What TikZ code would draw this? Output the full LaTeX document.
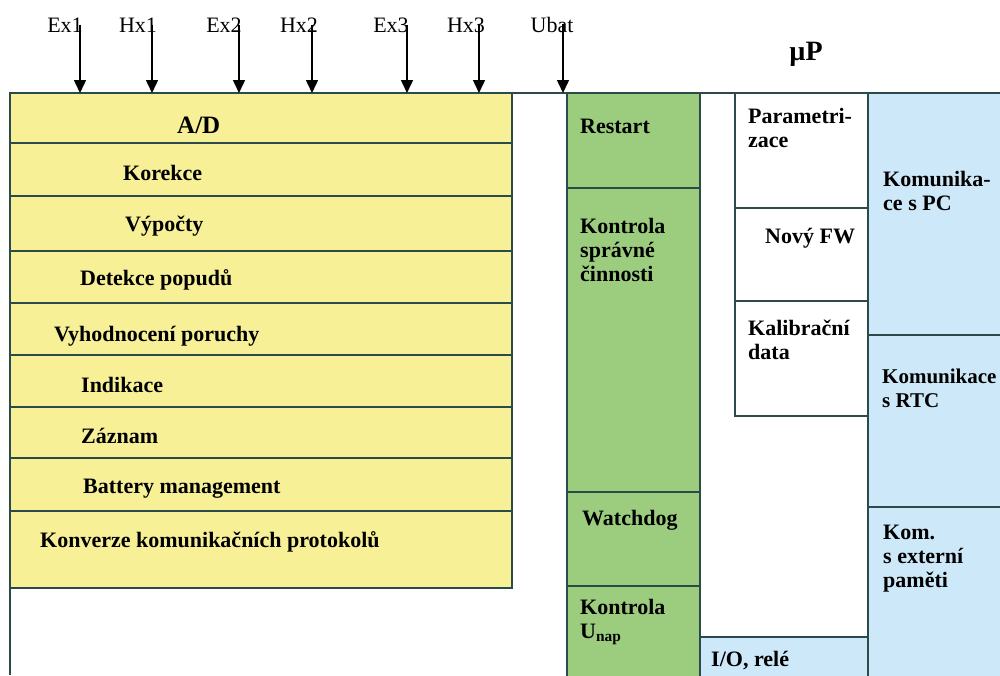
\documentclass[tikz,border=0pt]{standalone}
\usepackage{fontspec}
\setmainfont{Liberation Serif}
\usetikzlibrary{arrows.meta}
\definecolor{adyellow}{RGB}{247,240,151}
\definecolor{upgreen}{RGB}{156,204,126}
\definecolor{comblue}{RGB}{205,232,248}
\definecolor{framec}{RGB}{43,74,74}

\begin{document}
\begin{tikzpicture}[x=1pt, y=-1pt,
  box/.style={draw=framec, line width=1.6pt, anchor=north west, inner sep=0pt, outer sep=0pt},
  txt/.style={anchor=base west, inner sep=0pt, align=left, font=\bfseries\fontsize{22}{24}\selectfont},
  lab/.style={anchor=base, inner sep=0pt, font=\fontsize{22}{24}\selectfont},
  sig/.style={-{Triangle[length=13pt,width=12pt]}, line width=1.5pt}]
\useasboundingbox (0,0) rectangle (1000,675);

% A/D blok
\foreach \n/\ya/\yb in {ad/93/143, kor/143/196, vyp/196/251, det/251/303, vyh/303/355,
                         ind/355/407, zaz/407/458, bat/458/511, konv/511/588}
  \node[box, fill=adyellow, minimum width=502pt, minimum height={\yb-\ya}] (\n) at (10,\ya) {};

% dohled
\foreach \n/\ya/\yb in {restart/93/188, kontr/188/492, watch/492/586, unap/586/680}
  \node[box, fill=upgreen, minimum width=133pt, minimum height={\yb-\ya}] (\n) at (567,\ya) {};

% pamet
\foreach \n/\ya/\yb in {par/93/208, fw/208/301, kal/301/416}
  \node[box, fill=white, minimum width=133pt, minimum height={\yb-\ya}] (\n) at (735,\ya) {};

% komunikace
\foreach \n/\ya/\yb in {pc/93/335, rtc/335/507, ext/507/680}
  \node[box, fill=comblue, minimum width=140pt, minimum height={\yb-\ya}] (\n) at (868,\ya) {};
\node[box, fill=comblue, minimum width=168pt, minimum height=43pt] (io) at (700,637) {};

% ramecek
\draw[framec, line width=1.6pt] (10,675) -- (10,93) -- (1000,93);

% texty (u viceradkovych je base na poslednim radku)
\node[txt, font=\bfseries\fontsize{25}{28}\selectfont] (tad) at (177,133) {A/D};
\node[txt] (tkor) at (123,180) {Korekce};
\node[txt] (tvyp) at (125,231) {Výpočty};
\node[txt] (tdet) at (80,285) {Detekce popudů};
\node[txt] (tvyh) at (54,341) {Vyhodnocení poruchy};
\node[txt] (tind) at (81,392) {Indikace};
\node[txt] (tzaz) at (81,443) {Záznam};
\node[txt] (tbat) at (83,493) {Battery management};
\node[txt] (tkonv) at (40,547) {Konverze komunikačních protokolů};

\node[txt] (trestart) at (580,133) {Restart};
\node[txt] (tkontr) at (580,281) {Kontrola\\správné\\činnosti};
\node[txt] (twatch) at (582,525) {Watchdog};
\node[txt] (tunap) at (580,638) {Kontrola\\U\textsubscript{nap}};

\node[txt] (tpar) at (748,147) {Parametri-\\zace};
\node[txt] (tfw) at (765,243) {Nový FW};
\node[txt] (tkal) at (748,359) {Kalibrační\\data};

\node[txt] (tpc) at (883,210) {Komunika-\\ce s PC};
\node[txt, font=\bfseries\fontsize{21}{24}\selectfont] (trtc) at (882,407) {Komunikace\\s RTC};
\node[txt] (text) at (883,587) {Kom.\\s externí\\paměti};
\node[txt] (tio) at (711,666) {I/O, relé};

\node[anchor=base, inner sep=0pt, font=\bfseries\fontsize{28}{30}\selectfont] (up) at (806,60) {µP};

% vstupy
\foreach \n/\lx/\ax in {Ex1/65/80, Hx1/138/152, Ex2/224/239, Hx2/299/312,
                        Ex3/391/407, Hx3/466/479, Ubat/552/563} {
  \node[lab] (l\n) at (\lx,32) {\n};
  \coordinate (a\n) at (\ax,93);
  \draw[sig] (a\n |- l\n.center) -- (a\n);
}
\end{tikzpicture}
\end{document}
